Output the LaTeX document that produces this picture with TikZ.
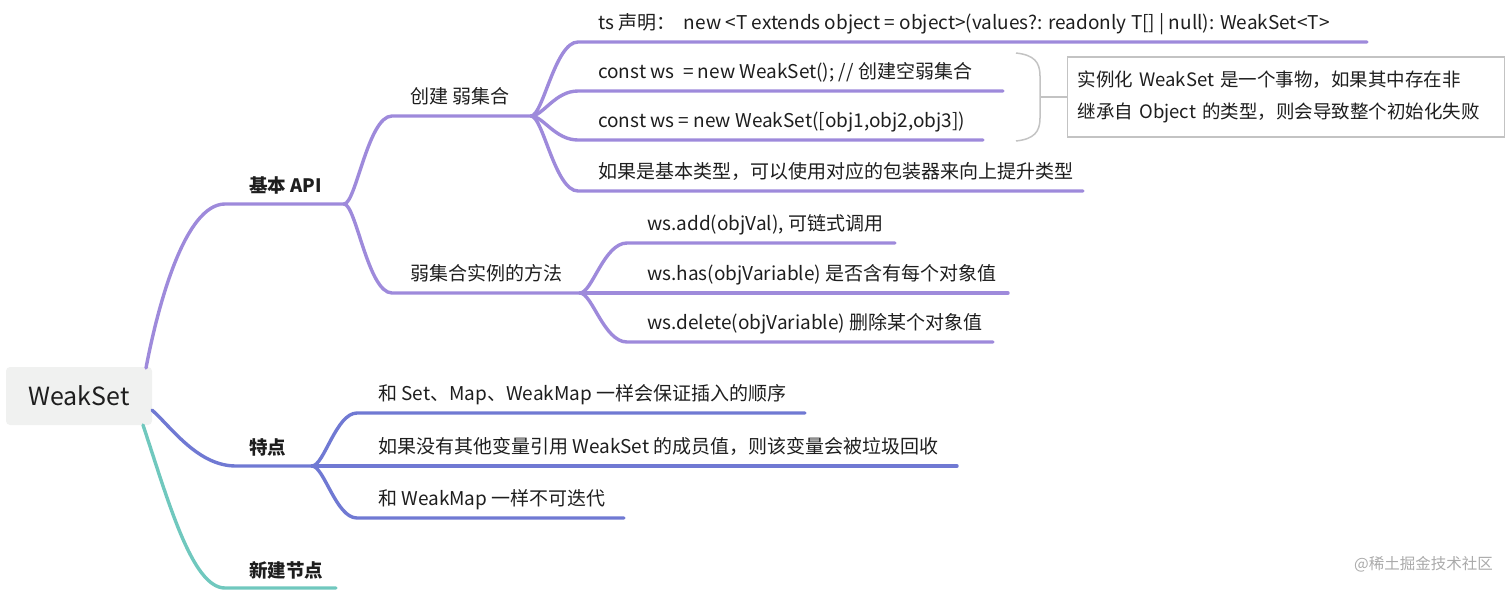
\documentclass[tikz,border=0pt]{standalone}
\usepackage{fontspec}
\setmainfont{Noto Sans CJK SC}
\definecolor{cpurple}{RGB}{158,138,219}
\definecolor{cblue}{RGB}{112,121,211}
\definecolor{cteal}{RGB}{112,200,190}
\definecolor{ctext}{RGB}{30,30,30}
\definecolor{cgrey}{RGB}{195,195,195}
\definecolor{croot}{RGB}{240,241,240}
\begin{document}
\begin{tikzpicture}[x=1pt,y=-1pt,
  brP/.style={draw=cpurple,line width=3.4pt,line cap=round},
  brB/.style={draw=cblue,line width=3.4pt,line cap=round},
  brT/.style={draw=cteal,line width=3.4pt,line cap=round},
  txt/.style={anchor=base west,inner sep=0pt,text=ctext,font=\fontsize{19}{22}\selectfont},
  lbl/.style={txt,font=\fontsize{18.5}{22}\selectfont\bfseries},
  rootbox/.style={fill=croot,rounded corners=4pt,minimum width=146pt,minimum height=58pt,inner sep=0pt,text=ctext,font=\fontsize{25}{28}\selectfont},
  notebox/.style={draw=cgrey,line width=1.2pt,fill=white,anchor=west,inner xsep=10pt,inner ysep=0pt,text width=417pt,minimum height=80pt,align=left,text=ctext,font=\fontsize{18.5}{32}\selectfont},
  bracket/.style={draw=cgrey,line width=1.5pt}
]
\useasboundingbox (0,0) rectangle (1512,592);

% root
\node[rootbox] (root) at (79,396) {WeakSet};
\coordinate (rP) at (146,368);
\coordinate (rB) at (152,410);
\coordinate (rT) at (143,425);

% level 1 coordinates
\coordinate (api-l) at (225,204);  \coordinate (api-r) at (344,204);
\coordinate (tp-l) at (236,466);   \coordinate (tp-r) at (312,466);
\coordinate (new-l) at (225,588);  \coordinate (new-r) at (336,588);

% level 2
\coordinate (cr-l) at (392,116);  \coordinate (cr-r) at (531,116);
\coordinate (me-l) at (392,293);  \coordinate (me-r) at (580,293);

% level 3 under create
\coordinate (c1-l) at (578,42);   \coordinate (c1-r) at (1367,42);
\coordinate (c2-l) at (578,91);   \coordinate (c2-r) at (1003,91);
\coordinate (c3-l) at (578,140);  \coordinate (c3-r) at (983,140);
\coordinate (c4-l) at (578,191);  \coordinate (c4-r) at (1083,191);

% level 3 under methods
\coordinate (m1-l) at (627,243);  \coordinate (m1-r) at (895,243);
\coordinate (m2-r) at (1008,293);
\coordinate (m3-l) at (627,342);  \coordinate (m3-r) at (993,342);

% level 2 under features
\coordinate (f1-l) at (357,413);  \coordinate (f1-r) at (805,413);
\coordinate (f2-r) at (957,466);
\coordinate (f3-l) at (357,518);  \coordinate (f3-r) at (624,518);

% ---- connectors ----
\draw[brP] (rP) .. controls (158,305) and (185,204) .. (api-l) -- (api-r);
\draw[brP] (api-r) .. controls (356,204) and (368,116) .. (cr-l) -- (cr-r);
\draw[brP] (api-r) .. controls (356,204) and (368,293) .. (me-l) -- (me-r);
\draw[brP] (cr-r) .. controls (543,116) and (555,42) .. (c1-l) -- (c1-r);
\draw[brP] (cr-r) .. controls (543,116) and (555,91) .. (c2-l) -- (c2-r);
\draw[brP] (cr-r) .. controls (543,116) and (555,140) .. (c3-l) -- (c3-r);
\draw[brP] (cr-r) .. controls (543,116) and (555,191) .. (c4-l) -- (c4-r);
\draw[brP] (me-r) .. controls (592,293) and (604,243) .. (m1-l) -- (m1-r);
\draw[brP] (me-r) -- (m2-r);
\draw[brP] (me-r) .. controls (592,293) and (604,342) .. (m3-l) -- (m3-r);

\draw[brB] (rB) .. controls (172,428) and (198,466) .. (tp-l) -- (tp-r);
\draw[brB] (tp-r) .. controls (324,466) and (336,413) .. (f1-l) -- (f1-r);
\draw[brB] (tp-r) -- (f2-r);
\draw[brB] (tp-r) .. controls (324,466) and (336,518) .. (f3-l) -- (f3-r);

\draw[brT] (rT) .. controls (168,500) and (192,588) .. (new-l) -- (new-r);

% ---- texts ----
\node[lbl] (api) at (249,192) {基本 API};
\node[txt] (cr) at (410,103) {创建 弱集合};
\node[txt] (me) at (410,280) {弱集合实例的方法};
\node[txt] (c1) at (598,29) {ts 声明：\ \ new <T extends object = object>(values?: readonly T[] | null): WeakSet<T>};
\node[txt] (c2) at (598,78) {const ws \ = new WeakSet(); // 创建空弱集合};
\node[txt] (c3) at (598,127) {const ws = new WeakSet([obj1,obj2,obj3])};
\node[txt] (c4) at (598,178) {如果是基本类型，可以使用对应的包装器来向上提升类型};
\node[txt] (m1) at (647,230) {ws.add(objVal), 可链式调用};
\node[txt] (m2) at (647,280) {ws.has(objVariable) 是否含有每个对象值};
\node[txt] (m3) at (647,329) {ws.delete(objVariable) 删除某个对象值};

\node[lbl] (tp) at (249,454) {特点};
\node[txt] (f1) at (378,400) {和 Set、Map、WeakMap 一样会保证插入的顺序};
\node[txt] (f2) at (378,453) {如果没有其他变量引用 WeakSet 的成员值，则该变量会被垃圾回收};
\node[txt] (f3) at (378,505) {和 WeakMap 一样不可迭代};

\node[lbl] (nw) at (249,577) {新建节点};

% ---- summary bracket and note ----
\node[notebox] (note) at (1067,97) {实例化 WeakSet 是一个事物，如果其中存在非\\继承自 Object 的类型，则会导致整个初始化失败};
\coordinate (bt) at (1016,53);
\coordinate (bb) at (1016,141);
\coordinate (bm) at (1040,97);
\draw[bracket] (bt) .. controls (1034,55) and (1040,62) .. (1040,76) -- (1040,118) .. controls (1040,132) and (1034,139) .. (bb);
\draw[bracket] (bm) -- (note.west);

% watermark
\node[anchor=base east,inner sep=0pt,text={rgb,255:red,170;green,170;blue,170},font=\fontsize{15.5}{18}\selectfont] (wm) at (1493,569) {@稀土掘金技术社区};
\end{tikzpicture}
\end{document}
